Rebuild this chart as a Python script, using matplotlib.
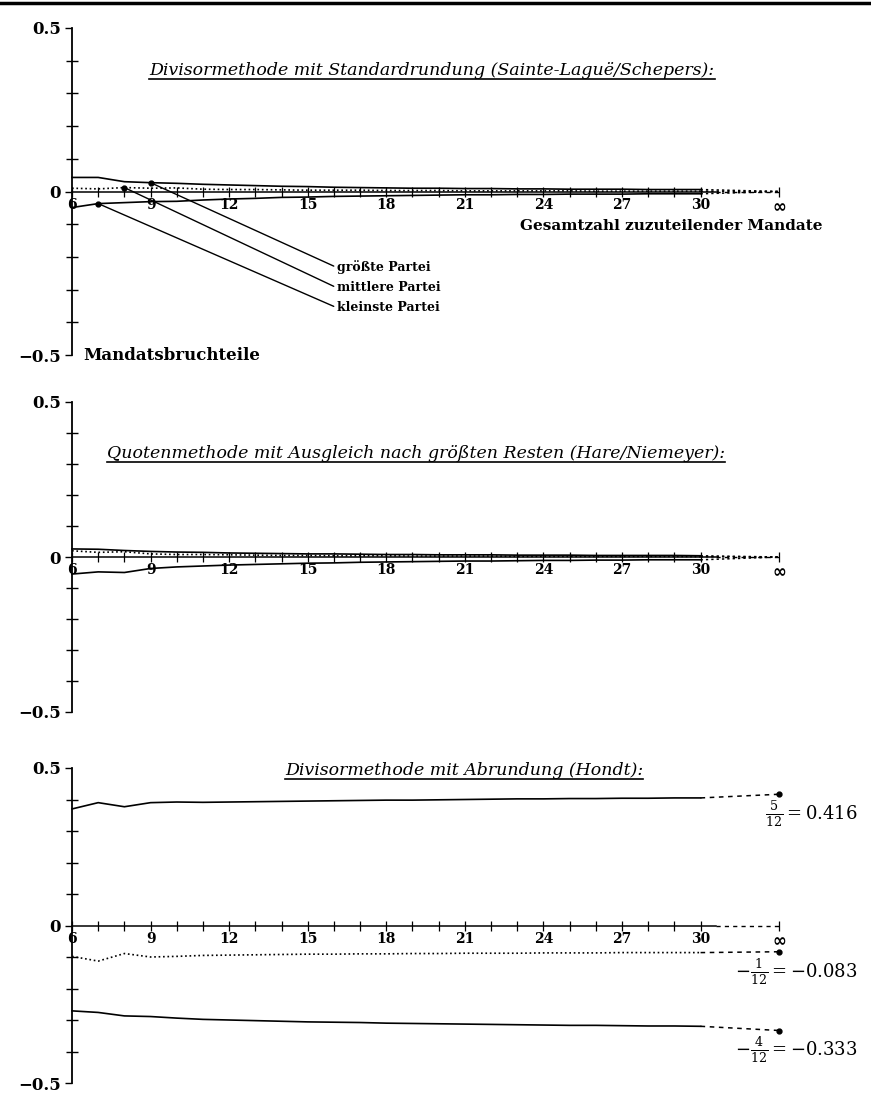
import matplotlib
matplotlib.use("Agg")
import matplotlib.pyplot as plt
from matplotlib.lines import Line2D
from matplotlib.transforms import blended_transform_factory, offset_copy

plt.rcParams['font.family'] = ['DejaVu Serif']
plt.rcParams['axes.unicode_minus'] = True

# ---------------- data ----------------
mandates = list(range(6, 31))
inf_pos = 33
x_major = [6, 9, 12, 15, 18, 21, 24, 27, 30]
x_major_labels = ['6', '9', '12', '15', '18', '21', '24', '27', '30']
inf_label = r'$\mathbf{\infty}$'
y_major = [-0.5, 0.0, 0.5]
y_major_labels = ['\u22120.5', '0', '0.5']
y_minor = [-0.4, -0.3, -0.2, -0.1, 0.1, 0.2, 0.3, 0.4]

titles = [
    'Divisormethode mit Standardrundung (Sainte-Laguë/Schepers):',
    'Quotenmethode mit Ausgleich nach größten Resten (Hare/Niemeyer):',
    'Divisormethode mit Abrundung (Hondt):',
]
party_labels = ['größte Partei', 'mittlere Partei', 'kleinste Partei']
x_axis_label = 'Gesamtzahl zuzuteilender Mandate'
y_axis_label = 'Mandatsbruchteile'

# Sainte-Lague / Schepers
sl_largest = [0.043, 0.043, 0.030, 0.027, 0.025, 0.022, 0.020, 0.018, 0.016, 0.015,
              0.013, 0.012, 0.011, 0.010, 0.010, 0.009, 0.009, 0.008, 0.008, 0.007,
              0.007, 0.007, 0.006, 0.006, 0.006]
sl_middle = [0.010, 0.008, 0.012, 0.010, 0.011, 0.007, 0.006, 0.006, 0.005, 0.004,
             0.004, 0.004, 0.003, 0.003, 0.003, 0.002, 0.002, 0.002, 0.002, 0.002,
             0.001, 0.001, 0.001, 0.001, 0.001]
sl_smallest = [-0.049, -0.037, -0.034, -0.031, -0.030, -0.026, -0.023, -0.021, -0.018, -0.017,
               -0.015, -0.014, -0.013, -0.012, -0.011, -0.010, -0.010, -0.009, -0.009, -0.008,
               -0.008, -0.008, -0.007, -0.007, -0.007]
sl_limits = [0.0, 0.0, 0.0]

# Hare / Niemeyer
hn_largest = [0.026, 0.025, 0.021, 0.018, 0.016, 0.015, 0.013, 0.012, 0.011, 0.010,
              0.010, 0.009, 0.008, 0.008, 0.007, 0.007, 0.007, 0.006, 0.006, 0.006,
              0.005, 0.005, 0.005, 0.005, 0.004]
hn_middle = [0.020, 0.015, 0.017, 0.010, 0.008, 0.008, 0.007, 0.006, 0.005, 0.005,
             0.004, 0.004, 0.004, 0.003, 0.003, 0.003, 0.003, 0.002, 0.002, 0.002,
             0.002, 0.002, 0.002, 0.002, 0.001]
hn_smallest = [-0.055, -0.048, -0.050, -0.037, -0.032, -0.029, -0.026, -0.024, -0.022, -0.020,
               -0.019, -0.017, -0.016, -0.015, -0.014, -0.013, -0.013, -0.012, -0.011, -0.011,
               -0.010, -0.010, -0.009, -0.009, -0.009]
hn_limits = [0.0, 0.0, 0.0]

# d'Hondt
h_largest = [0.370, 0.390, 0.377, 0.390, 0.392, 0.391, 0.392, 0.393, 0.394, 0.395,
             0.396, 0.397, 0.398, 0.398, 0.399, 0.400, 0.401, 0.402, 0.402, 0.403,
             0.403, 0.404, 0.404, 0.405, 0.405]
h_middle = [-0.098, -0.113, -0.089, -0.100, -0.098, -0.095, -0.094, -0.093, -0.092, -0.091,
            -0.091, -0.090, -0.090, -0.089, -0.089, -0.088, -0.088, -0.088, -0.087, -0.087,
            -0.087, -0.086, -0.086, -0.086, -0.086]
h_smallest = [-0.271, -0.276, -0.287, -0.289, -0.294, -0.298, -0.300, -0.302, -0.304, -0.306,
              -0.307, -0.308, -0.310, -0.311, -0.312, -0.313, -0.314, -0.315, -0.316, -0.317,
              -0.317, -0.318, -0.319, -0.319, -0.320]
h_limits = [5 / 12, -1 / 12, -4 / 12]
h_limit_labels = [r'$\frac{5}{12} = 0.416$', r'$-\frac{1}{12} = -0.083$', r'$-\frac{4}{12} = -0.333$']

# annotation anchors (mandate count at which each curve is labelled)
annot_at = [9, 8, 7]

# ---------------- figure ----------------
W, H = 871, 1100
fig = plt.figure(figsize=(W / 100, H / 100), dpi=100)


def fx(px):
    return px / W


def fy(py):
    return 1 - py / H


left = fx(72)
width = fx(715)
ax_top = fig.add_axes([left, fy(355), width, 327 / H])
ax_mid = fig.add_axes([left, fy(712), width, 310 / H])
ax_bot = fig.add_axes([left, fy(1083), width, 315 / H])

styles = ['-', ':', '-']


def setup(ax):
    ax.set_xlim(6, 33.3)
    ax.set_ylim(-0.5, 0.5)
    for s in ('top', 'right'):
        ax.spines[s].set_visible(False)
    ax.spines['left'].set_bounds(-0.5, 0.5)
    ax.spines['bottom'].set_position(('data', 0))
    ax.spines['bottom'].set_bounds(6, 30.6)
    ax.spines['left'].set_linewidth(1.3)
    ax.spines['bottom'].set_linewidth(1.1)
    ax.plot([30.6, inf_pos], [0, 0], color='k', lw=1.0, ls=(0, (3, 3)), clip_on=False)
    ax.set_xticks(x_major + [inf_pos])
    labels = ax.set_xticklabels(x_major_labels + [inf_label], fontweight='bold', fontsize=10)
    labels[-1].set_fontsize(12)
    ax.set_xticks([m for m in mandates if m not in x_major], minor=True)
    ax.tick_params(axis='x', which='both', direction='inout', length=7, width=0.9, pad=1)
    ax.set_yticks(y_major)
    ax.set_yticklabels(y_major_labels, fontweight='bold', fontsize=12)
    ax.set_yticks(y_minor, minor=True)
    ax.tick_params(axis='y', which='major', direction='out', length=5, width=1, pad=3)
    ax.tick_params(axis='y', which='minor', direction='inout', length=8, width=1)
    ax.patch.set_alpha(0)


def draw_series(ax, series, limits, ext_style):
    for vals, st, lim in zip(series, styles, limits):
        ax.plot(mandates, vals, color='k', lw=1.2, ls=st, clip_on=False)
        ax.plot([mandates[-1], inf_pos], [vals[-1], lim], color='k', lw=1.1,
                ls=ext_style, clip_on=False)


for ax in (ax_top, ax_mid, ax_bot):
    setup(ax)

draw_series(ax_top, [sl_largest, sl_middle, sl_smallest], sl_limits, (0, (1.5, 2)))
draw_series(ax_mid, [hn_largest, hn_middle, hn_smallest], hn_limits, (0, (1.5, 2)))
draw_series(ax_bot, [h_largest, h_middle, h_smallest], h_limits, (0, (3, 3)))

# dots at infinity in the Hondt panel
ax_bot.plot([inf_pos] * 3, h_limits, 'o', color='k', ms=3.5, clip_on=False)

# limit labels, right-aligned near the right page edge
tr = offset_copy(blended_transform_factory(fig.transFigure, ax_bot.transData),
                 fig=fig, x=0, y=-20, units='dots')
for lim, txt in zip(h_limits, h_limit_labels):
    ax_bot.text(fx(858), lim, txt, transform=tr, ha='right', va='center',
                fontsize=13, math_fontfamily='dejavuserif')

# party annotations (top panel)
label_y = [-0.232, -0.294, -0.355]
for series, at, lab, ly in zip([sl_largest, sl_middle, sl_smallest], annot_at, party_labels, label_y):
    yv = series[mandates.index(at)]
    ax_top.plot([at], [yv], 'o', color='k', ms=3.5)
    ax_top.annotate(lab, xy=(at, yv), xytext=(16.1, ly), ha='left', va='center',
                    fontsize=9, fontweight='bold',
                    arrowprops=dict(arrowstyle='-', lw=1.0, color='k', shrinkA=0, shrinkB=0,
                                    relpos=(0, 0.5)))

tr_lab = blended_transform_factory(fig.transFigure, ax_top.transData)
ax_top.text(fx(822), -0.105, x_axis_label, transform=tr_lab, ha='right', va='center',
            fontsize=11, fontweight='bold')
ax_top.text(6.42, -0.5, y_axis_label, ha='left', va='center', fontsize=12, fontweight='bold')

# titles (italic, underlined)
title_pos = [(432, 75), (416, 458), (464, 775)]
title_objs = []
for t, (px, py) in zip(titles, title_pos):
    title_objs.append(fig.text(fx(px), fy(py), t, ha='center', va='baseline',
                               fontsize=12.5, style='italic'))

# header rule
fig.add_artist(Line2D([0, 1], [fy(3), fy(3)], color='k', lw=2.5))

fig.canvas.draw()
r = fig.canvas.get_renderer()
for tobj, (px, py) in zip(title_objs, title_pos):
    bb = tobj.get_window_extent(r)
    yline = fy(py + 4)
    fig.add_artist(Line2D([bb.x0 / W, bb.x1 / W], [yline, yline], color='k', lw=1.2))

fig.savefig('out.png', dpi=100)
